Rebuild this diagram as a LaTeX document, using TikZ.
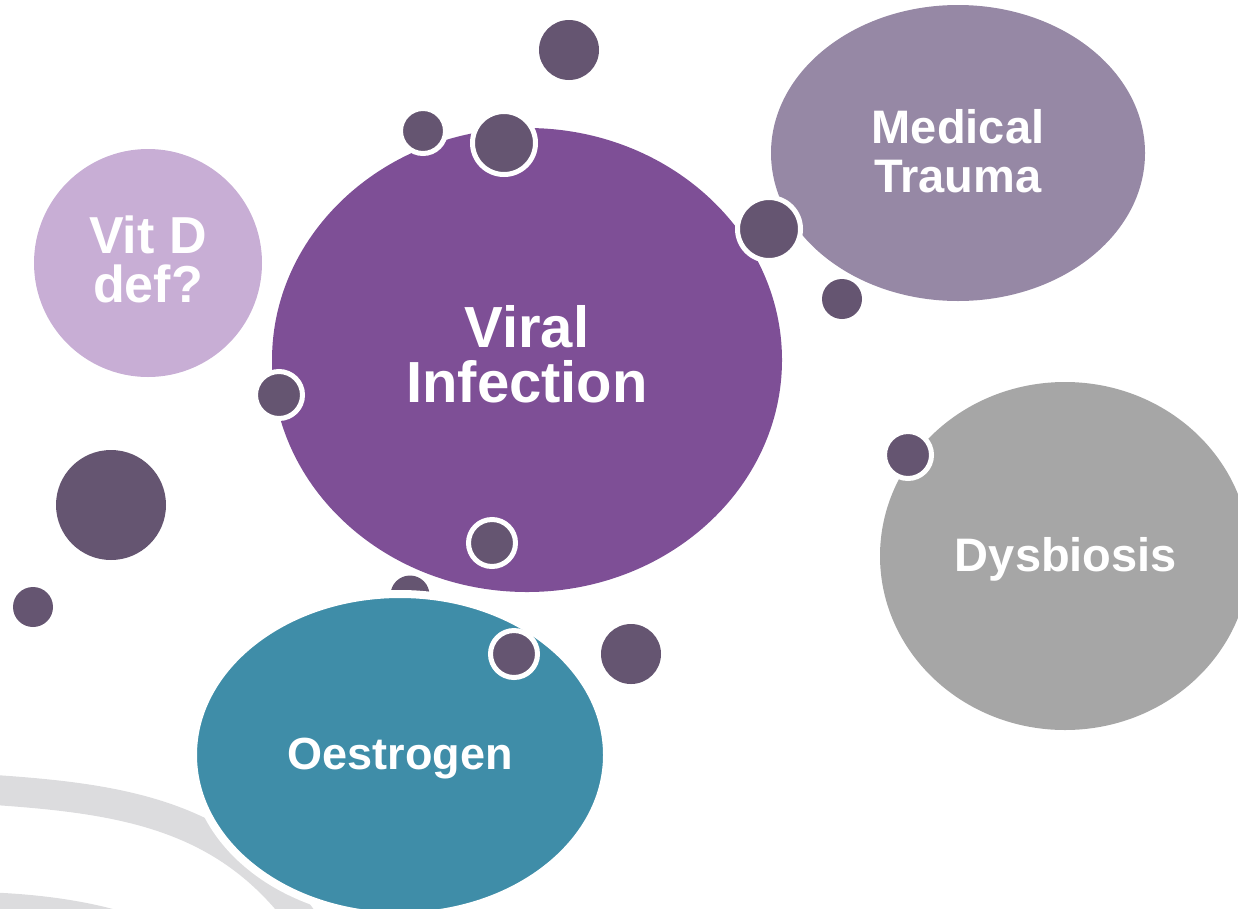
\documentclass[tikz,border=0pt]{standalone}
\usepackage{fontspec}
\setmainfont{Liberation Sans}
\usetikzlibrary{shapes.geometric}

\definecolor{viralpurple}{HTML}{7E4F96}
\definecolor{traumamauve}{HTML}{9688A5}
\definecolor{vitdlilac}{HTML}{C8AED5}
\definecolor{dysgrey}{HTML}{A6A6A6}
\definecolor{oestroteal}{HTML}{3F8DA8}
\definecolor{dotgrey}{HTML}{655571}
\definecolor{bandgrey}{HTML}{DCDCDE}

\begin{document}
\begin{tikzpicture}[
		x=1pt, y=-1pt,
		blob/.style={ellipse, inner sep=0pt, outer sep=0pt},
		dot/.style={circle, fill=dotgrey, inner sep=0pt},
		ringdot/.style={dot, draw=white, line width=5pt},
		word/.style={text=white, align=center},
		band/.style={draw=bandgrey, line width=30pt}
	]
	\useasboundingbox (0,0) rectangle (1238,908);
	\clip (0,0) rectangle (1238,908);

	% background swooshes
	\draw[band] (-20,789) .. controls (120,798) and (230,812) .. (310,930);
	\draw[band, line width=28pt] (-20,906) .. controls (50,908) and (110,918) .. (160,940);

	% the factors
	\node[blob, fill=vitdlilac, minimum width=228pt, minimum height=228pt] (vitd) at (148,263) {};
	\node[blob, fill=traumamauve, minimum width=374pt, minimum height=296pt] (trauma) at (958,153) {};
	\node[blob, fill=dysgrey, minimum width=370pt, minimum height=348pt] (dysbiosis) at (1065,556) {};
	\node[blob, fill=viralpurple, minimum width=510pt, minimum height=464pt] (viral) at (527,360) {};
	\node[dot, minimum size=39pt] (dotJ) at (410,595) {};
	\node[blob, fill=oestroteal, draw=white, line width=8pt, minimum width=414pt, minimum height=322pt] (oestrogen) at (400,755) {};

	% labels
	\node[word, font=\fontsize{58}{55}\selectfont\bfseries] (viraltxt) at (527,354) {Viral\\Infection};
	\node[word, font=\fontsize{47}{49}\selectfont\bfseries] (traumatxt) at (958,151) {Medical\\Trauma};
	\node[word, font=\fontsize{52}{49}\selectfont\bfseries] (vitdtxt) at (148,259) {Vit D\\def?};
	\node[word, font=\fontsize{47}{49}\selectfont\bfseries] (dystxt) at (1066,559) {Dysbiosis};
	\node[word, font=\fontsize{45}{49}\selectfont\bfseries] (oestrotxt) at (400,759) {Oestrogen};

	% small dots
	\node[dot, minimum size=60pt] (dotTop) at (569,50) {};
	\node[ringdot, minimum size=45pt] (dotA) at (423,131) {};
	\node[ringdot, minimum size=63pt] (dotB) at (504,143) {};
	\node[ringdot, minimum size=63pt] (dotC) at (769,229) {};
	\node[dot, minimum size=40pt] (dotD) at (842,299) {};
	\node[ringdot, minimum size=47pt] (dotE) at (279,395) {};
	\node[ringdot, minimum size=47pt] (dotF) at (908,455) {};
	\node[dot, minimum size=110pt] (dotG) at (111,505) {};
	\node[dot, minimum size=40pt] (dotH) at (33,607) {};
	\node[ringdot, minimum size=47pt] (dotI) at (492,543) {};
	\node[ringdot, minimum size=47pt] (dotK) at (514,654) {};
	\node[dot, minimum size=60pt] (dotL) at (631,654) {};
\end{tikzpicture}
\end{document}
